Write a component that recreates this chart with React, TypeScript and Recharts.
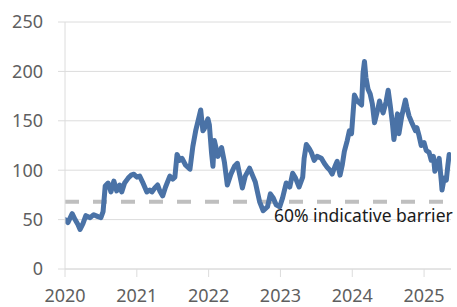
import React from 'react';
import { LineChart, Line, XAxis, YAxis, CartesianGrid, ReferenceLine } from 'recharts';

const dates: number[] = [
  2020.00, 2020.04, 2020.10, 2020.14, 2020.18, 2020.21, 2020.25, 2020.29, 2020.35, 2020.40,
  2020.46, 2020.50, 2020.53, 2020.56, 2020.60, 2020.64, 2020.68, 2020.72, 2020.76, 2020.79,
  2020.83, 2020.88, 2020.92, 2020.96, 2021.00, 2021.04, 2021.08, 2021.14, 2021.18, 2021.21,
  2021.25, 2021.29, 2021.32, 2021.36, 2021.40, 2021.46, 2021.50, 2021.53, 2021.56, 2021.60,
  2021.63, 2021.68, 2021.74, 2021.78, 2021.82, 2021.86, 2021.89, 2021.92, 2021.94, 2021.99,
  2022.01, 2022.04, 2022.06, 2022.08, 2022.13, 2022.18, 2022.22, 2022.26, 2022.31, 2022.36,
  2022.40, 2022.47, 2022.51, 2022.57, 2022.61, 2022.65, 2022.68, 2022.71, 2022.76, 2022.82,
  2022.86, 2022.90, 2022.94, 2022.99, 2023.03, 2023.08, 2023.13, 2023.17, 2023.21, 2023.26,
  2023.31, 2023.33, 2023.36, 2023.40, 2023.43, 2023.47, 2023.51, 2023.57, 2023.61, 2023.65,
  2023.69, 2023.72, 2023.76, 2023.79, 2023.83, 2023.86, 2023.89, 2023.93, 2023.96, 2023.99,
  2024.03, 2024.07, 2024.10, 2024.13, 2024.15, 2024.17, 2024.19, 2024.22, 2024.25, 2024.28,
  2024.31, 2024.35, 2024.38, 2024.40, 2024.43, 2024.47, 2024.50, 2024.53, 2024.56, 2024.58,
  2024.63, 2024.65, 2024.69, 2024.74, 2024.76, 2024.79, 2024.83, 2024.88, 2024.90, 2024.93,
  2024.96, 2025.00, 2025.03, 2025.07, 2025.10, 2025.13, 2025.15, 2025.18, 2025.21, 2025.24,
  2025.25, 2025.28, 2025.31, 2025.33, 2025.35, 2025.37,
];

const values: number[] = [
  50, 47, 56, 50, 45, 40, 46, 54, 52, 55,
  53, 52, 58, 84, 87, 78, 89, 79, 85, 78,
  87, 92, 95, 96, 93, 94, 88, 78, 80, 78,
  82, 85, 79, 74, 83, 94, 91, 93, 116, 110,
  112, 105, 101, 124, 140, 152, 161, 140, 142, 152,
  146, 118, 104, 130, 114, 123, 108, 85, 96, 104,
  107, 82, 94, 102, 95, 88, 78, 68, 59, 63,
  76, 72, 65, 63, 72, 87, 83, 97, 92, 83,
  93, 112, 126, 122, 118, 110, 114, 112, 107, 103,
  100, 96, 104, 109, 95, 105, 119, 130, 140, 137,
  176, 170, 168, 166, 198, 210, 194, 182, 177, 167,
  148, 160, 170, 164, 158, 169, 181, 165, 147, 131,
  157, 137, 155, 171, 164, 155, 148, 140, 143, 135,
  125, 128, 120, 118, 110, 114, 99, 105, 112, 89,
  80, 92, 90, 104, 116, 113,
];

const yearTicks: number[] = [2020, 2021, 2022, 2023, 2024, 2025];
const valueTicks: number[] = [0, 50, 100, 150, 200, 250];
const barrierLevel = 68;
const barrierLabel = '60% indicative barrier';

const data = dates.map((t, i) => ({ t, v: values[i] }));

const FONT = '"Noto Sans", Lato, sans-serif';

const BarrierLabel = (props: any) => {
  const vb = props.viewBox || {};
  return (
    <text
      x={(vb.x || 0) + 209}
      y={(vb.y || 0) + 20}
      fill="#1a1a1a"
      fontSize={17.5}
      fontFamily={FONT}
      textAnchor="start"
    >
      {barrierLabel}
    </text>
  );
};

export default function App() {
  return (
    <div style={{ position: 'absolute', left: 0, top: 0, width: 457, height: 307, background: '#fff' }}>
      <LineChart width={457} height={307} data={data} margin={{ top: 22, right: 6, bottom: 8, left: 0 }}>
        <CartesianGrid vertical={false} stroke="#dcdcdc" strokeWidth={1} />
        <XAxis
          dataKey="t"
          type="number"
          domain={[2020, 2025.375]}
          ticks={yearTicks}
          tickFormatter={(v: number) => String(Math.round(v))}
          allowDataOverflow
          height={30}
          stroke="#dcdcdc"
          tickSize={8}
          tickMargin={12}
          tick={{ fill: '#5f5f5f', fontSize: 18, fontFamily: FONT }}
          interval={0}
        />
        <YAxis
          type="number"
          domain={[0, 250]}
          ticks={valueTicks}
          width={65}
          stroke="#dcdcdc"
          tickSize={7}
          tickMargin={15}
          tick={{ fill: '#5f5f5f', fontSize: 18, fontFamily: FONT }}
          interval={0}
        />
        <ReferenceLine
          y={barrierLevel}
          stroke="#bfbfbf"
          strokeWidth={4}
          strokeDasharray="14 14"
          label={<BarrierLabel />}
        />
        <Line
          type="linear"
          dataKey="v"
          stroke="#4a72a6"
          strokeWidth={5}
          strokeLinejoin="round"
          strokeLinecap="round"
          dot={false}
          isAnimationActive={false}
        />
      </LineChart>
    </div>
  );
}
